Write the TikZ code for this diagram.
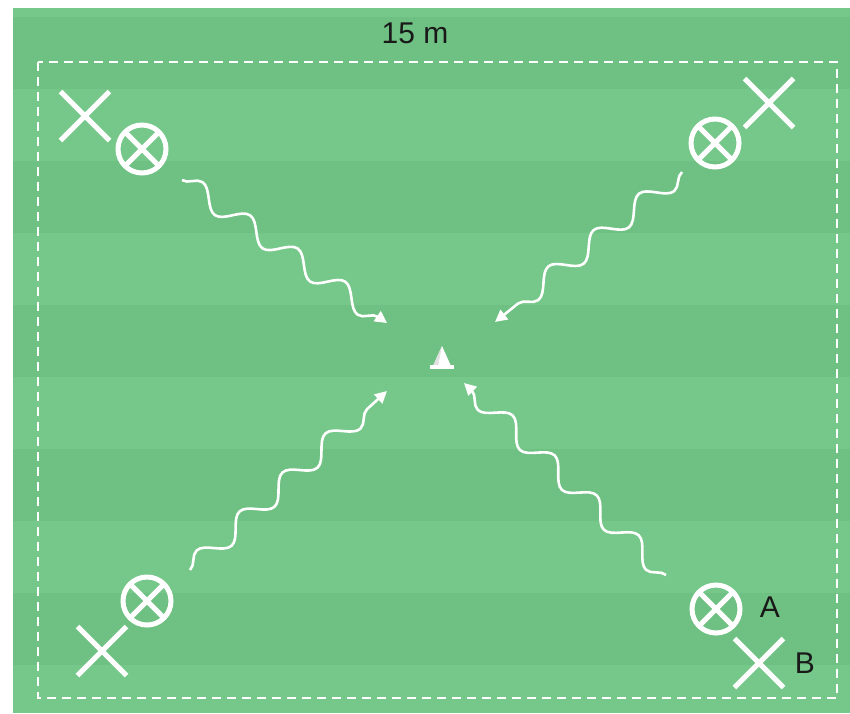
\documentclass[tikz,border=0pt]{standalone}
\usepackage{fontspec}
\setmainfont{Liberation Sans}
\usetikzlibrary{arrows.meta,decorations.pathmorphing,shapes.misc}
\definecolor{cesped}{RGB}{110,193,130}
\definecolor{cespedclaro}{RGB}{117,200,137}

\begin{document}
\begin{tikzpicture}[x=1pt,y=-1pt,line width=3pt,>={Triangle[length=12pt,width=12pt]},
  aro/.style={circle,draw=white,line width=5pt,minimum size=48pt,inner sep=0pt,
    path picture={\draw[white,line width=5pt]
      (path picture bounding box.north west)--(path picture bounding box.south east)
      (path picture bounding box.north east)--(path picture bounding box.south west);}},
  marca/.style={cross out,draw=white,line width=5pt,minimum size=44pt,inner sep=0pt},
  ola/.style={white,line width=2.6pt,->,decorate,decoration={snake,segment length=58pt,amplitude=10pt,post length=10pt}},
  rotulo/.style={font=\fontsize{30}{32}\selectfont,text=black!90}]
  \useasboundingbox (0,0) rectangle (850,713);
  % campo con franjas
  \fill[white] (0,0) rectangle (850,713);
  \fill[cespedclaro] (13,8) rectangle (850,713);
  \foreach \y in {17,161,305,449,593}
    \fill[cesped] (13,\y) rectangle (850,\y+72);
  % area de juego
  \draw[white,line width=2.8pt,dash pattern=on 9pt off 6pt] (38,62) rectangle (837,698);
  \node[rotulo] (ancho) at (415,33) {15 m};
  % esquinas
  \node[marca] (xso) at (85,116) {};
  \node[aro]   (aso) at (142,149) {};
  \node[marca] (xne) at (769,103) {};
  \node[aro]   (ane) at (715,143) {};
  \node[aro]   (aio) at (147,601) {};
  \node[marca] (xio) at (102,651) {};
  \node[aro]   (aie) at (716,609) {};
  \node[marca] (xie) at (759,663) {};
  \node[rotulo,anchor=west] (lblA) at (755,607) {A};
  \node[rotulo,anchor=west] (lblB) at (790,663) {B};
  % cono central
  \fill[white] (433,366)--(442,346)--(451,366)--cycle;
  \fill[black!12] (433,366)--(442,346)--(438,366)--cycle;
  \fill[white] (430,365) rectangle (454,369);
  % recorridos
  \coordinate (ini1) at (182,180); \coordinate (fin1) at (387,323);
  \coordinate (ini2) at (682,172); \coordinate (fin2) at (495,322);
  \coordinate (ini3) at (190,570); \coordinate (fin3) at (387,391);
  \coordinate (ini4) at (666,575); \coordinate (fin4) at (464,383);
  \draw[ola] (ini1) -- (fin1);
  \draw[ola] (ini2) -- (fin2);
  \draw[ola] (ini3) -- (fin3);
  \draw[ola] (ini4) -- (fin4);
\end{tikzpicture}
\end{document}
